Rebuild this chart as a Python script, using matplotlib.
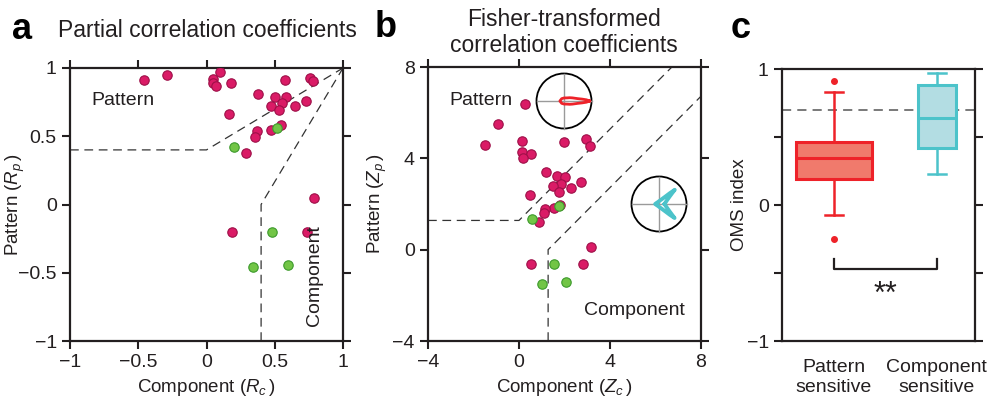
import matplotlib
matplotlib.use("Agg")
import matplotlib.pyplot as plt
import numpy as np
from matplotlib.patches import Circle

plt.rcParams["font.family"] = ["Liberation Sans", "DejaVu Sans"]
plt.rcParams["mathtext.fontset"] = "custom"
plt.rcParams["mathtext.rm"] = "Liberation Sans"
plt.rcParams["mathtext.it"] = "Liberation Sans:italic"

# ---- partial correlations (panel a) ----
rc_pink = [-0.455, -0.29, 0.10, 0.05, 0.05, 0.07, 0.18, 0.575, 0.755, 0.78,
           0.38, 0.50, 0.58, 0.55, 0.475, 0.53, 0.645, 0.73, 0.165, 0.545,
           0.475, 0.37, 0.355, 0.29, 0.785, 0.185, 0.735]
rp_pink = [0.91, 0.95, 0.97, 0.92, 0.89, 0.87, 0.89, 0.915, 0.925, 0.905,
           0.81, 0.79, 0.79, 0.745, 0.725, 0.69, 0.72, 0.76, 0.66, 0.58,
           0.545, 0.535, 0.495, 0.375, 0.045, -0.205, -0.205]
rc_green = [0.515, 0.20, 0.48, 0.34, 0.60]
rp_green = [0.56, 0.42, -0.20, -0.46, -0.44]

# ---- Fisher-transformed correlations (panel b) ----
zc_pink = [0.26, -0.92, -1.48, 0.13, 0.12, 0.51, 0.19, 1.96, 2.95, 3.11,
           1.17, 1.66, 2.01, 1.83, 1.51, 1.76, 2.29, 2.74, 0.48, 1.82,
           1.54, 1.14, 1.08, 0.86, 3.15, 0.51, 2.81]
zp_pink = [6.37, 5.52, 4.60, 4.77, 4.26, 4.20, 4.02, 4.73, 4.86, 4.53,
           3.39, 3.24, 3.18, 2.86, 2.79, 2.54, 2.72, 2.96, 2.38, 1.97,
           1.81, 1.77, 1.62, 1.20, 0.13, -0.63, -0.63]
zc_green = [1.74, 0.59, 1.52, 1.01, 2.07]
zp_green = [1.91, 1.34, -0.61, -1.50, -1.42]

# classification boundaries
r_crit = 0.4
z_crit = 1.28

# example direction tuning curves (degrees, normalised response)
pattern_dirs = [0, 3, 6, 10, 20, 30, 45, 60, 90, 135, 180, 225, 270, 300, 315,
                330, 340, 350, 354, 357]
pattern_resp = [0.93, 0.82, 0.66, 0.5, 0.33, 0.24, 0.16, 0.13, 0.11, 0.12, 0.15,
                0.12, 0.11, 0.13, 0.16, 0.24, 0.33, 0.5, 0.66, 0.82]
component_dirs = [0, 10, 20, 30, 35, 38, 40, 42, 45, 50, 60, 75, 90, 120, 150, 180,
                  210, 240, 270, 285, 300, 310, 315, 318, 320, 322, 325, 330, 340, 350]
component_resp = [0.2, 0.23, 0.28, 0.38, 0.47, 0.56, 0.64, 0.77, 0.55, 0.34, 0.2,
                  0.13, 0.1, 0.08, 0.09, 0.14, 0.09, 0.08, 0.1, 0.13, 0.2, 0.34,
                  0.55, 0.76, 0.64, 0.56, 0.47, 0.38, 0.28, 0.23]

# ---- OMS index summary (panel c) ----
box_groups = ["Pattern\nsensitive", "Component\nsensitive"]
box_med = [0.347, 0.639]
box_q1 = [0.19, 0.418]
box_q3 = [0.465, 0.88]
box_lo = [-0.077, 0.229]
box_hi = [0.831, 0.973]
box_fliers = [[0.914, -0.247], []]
oms_ref = 0.7

ticks_r = [-1, -0.5, 0, 0.5, 1]
ticklabels_r = ["\u22121", "\u22120.5", "0", "0.5", "1"]
ticks_z = [-4, 0, 4, 8]
ticklabels_z = ["\u22124", "0", "4", "8"]
ticks_c = [-1, -0.5, 0, 0.5, 1]
ticklabels_c = ["\u22121", "", "0", "", "1"]

PINK, PINK_EDGE = "#da1b66", "#9e1048"
GREEN, GREEN_EDGE = "#72c546", "#3d9a2c"
RED, RED_FACE = "#ee2229", "#f07a6c"
CYAN, CYAN_FACE = "#4cc3ca", "#b3dde3"
INK = "#231f20"

W, H = 992, 398
fig = plt.figure(figsize=(W / 100, H / 100), dpi=100)


def px_axes(x0, y0, x1, y1):
    return fig.add_axes([x0 / W, 1 - y1 / H, (x1 - x0) / W, (y1 - y0) / H])


def fig_text(x, y, s, **kw):
    fig.text(x / W, 1 - y / H, s, **kw)


def style(ax):
    for sp in ax.spines.values():
        sp.set_linewidth(1.6)
        sp.set_color(INK)
    ax.tick_params(direction="out", length=6, width=1.5, color=INK,
                   top=True, right=True, labelsize=14, pad=3.5,
                   labelcolor=INK)


dash = dict(color="#333333", lw=0.9, dashes=(7, 4.5))
MS = 46

# ---------------- panel a ----------------
ax_a = px_axes(70, 68, 343, 341)
style(ax_a)
ax_a.plot([-1, 0, 1], [r_crit, r_crit, 1], **dash)
ax_a.plot([r_crit, r_crit, 1], [-1, 0, 1], **dash)
ax_a.scatter(rc_pink, rp_pink, s=MS, c=PINK, edgecolors=PINK_EDGE, linewidths=0.8, zorder=3)
ax_a.scatter(rc_green, rp_green, s=MS, c=GREEN, edgecolors=GREEN_EDGE, linewidths=0.8, zorder=4)
ax_a.set_xlim(-1, 1)
ax_a.set_ylim(-1, 1)
ax_a.set_xticks(ticks_r, ticklabels_r)
ax_a.set_yticks(ticks_r, ticklabels_r)
ax_a.set_xlabel(r"Component ($R_c\,$)", fontsize=13.5, labelpad=4, color=INK)
ax_a.set_ylabel(r"Pattern ($R_p\,$)", fontsize=13.5, color=INK)
ax_a.yaxis.set_label_coords((27 - 70) / 273, 0.5)
ax_a.text(-0.84, 0.76, "Pattern", fontsize=14, va="center", ha="left", color=INK)
ax_a.text(0.79, -0.52, "Component", fontsize=14, va="center", ha="center",
          rotation=90, color=INK)

# ---------------- panel b ----------------
ax_b = px_axes(428, 67, 701, 341)
style(ax_b)
ax_b.plot([-4, 0, 8 - z_crit], [z_crit, z_crit, 8], **dash)
ax_b.plot([z_crit, z_crit, 8], [-4, 0, 8 - z_crit], **dash)
ax_b.scatter(zc_pink, zp_pink, s=MS, c=PINK, edgecolors=PINK_EDGE, linewidths=0.8, zorder=3)
ax_b.scatter(zc_green, zp_green, s=MS, c=GREEN, edgecolors=GREEN_EDGE, linewidths=0.8, zorder=4)
ax_b.set_xlim(-4, 8)
ax_b.set_ylim(-4, 8)
ax_b.set_xticks(ticks_z, ticklabels_z)
ax_b.set_yticks(ticks_z, ticklabels_z)
ax_b.set_xlabel(r"Component ($Z_c\,$)", fontsize=13.5, labelpad=4, color=INK)
ax_b.set_ylabel(r"Pattern ($Z_p\,$)", fontsize=13.5, color=INK)
ax_b.yaxis.set_label_coords((389 - 428) / 273, 0.5)
ax_b.text(-3.06, 6.54, "Pattern", fontsize=14, va="center", ha="left", color=INK)
ax_b.text(2.87, -2.66, "Component", fontsize=14, va="center", ha="left", color=INK)


def polar_icon(cx, cy, r, dirs, resp, color, lw):
    ax = px_axes(cx - r, cy - r, cx + r, cy + r)
    ax.set_xlim(-1, 1)
    ax.set_ylim(-1, 1)
    ax.axis("off")
    ax.plot([-1, 1], [0, 0], color="#9a9a9a", lw=1.0, clip_on=False)
    ax.plot([0, 0], [-1, 1], color="#9a9a9a", lw=1.0, clip_on=False)
    ax.add_patch(Circle((0, 0), 1, fill=False, ec="black", lw=1.3, clip_on=False))
    th = np.deg2rad(np.append(dirs, dirs[0]))
    rr = np.append(resp, resp[0])
    ax.plot(rr * np.cos(th), rr * np.sin(th), color=color, lw=lw,
            solid_joinstyle="round", clip_on=False)


polar_icon(564, 101, 27.5, pattern_dirs, pattern_resp, RED, 2.0)
polar_icon(659, 204, 27.5, component_dirs, component_resp, CYAN, 2.8)

# ---------------- panel c ----------------
ax_c = px_axes(782, 69, 975, 341)
style(ax_c)
ax_c.tick_params(axis="x", top=False, bottom=False, pad=7)
ax_c.axhline(oms_ref, color="#555555", lw=1.1, dashes=(6, 4), zorder=1)
stats = []
for i in range(len(box_groups)):
    stats.append(dict(med=box_med[i], q1=box_q1[i], q3=box_q3[i],
                      whislo=box_lo[i], whishi=box_hi[i], fliers=box_fliers[i]))
bp = ax_c.bxp(stats, positions=[1, 2], widths=[0.74, 0.37], capwidths=[0.17, 0.18],
              patch_artist=True, manage_ticks=False)
for i, (ec, fc) in enumerate([(RED, RED_FACE), (CYAN, CYAN_FACE)]):
    bp["boxes"][i].set(facecolor=fc, edgecolor=ec, linewidth=2.2, zorder=2)
    bp["medians"][i].set(color=ec, linewidth=2.2, zorder=3)
    for k in (2 * i, 2 * i + 1):
        bp["whiskers"][k].set(color=ec, linewidth=1.8)
        bp["caps"][k].set(color=ec, linewidth=1.8)
    bp["fliers"][i].set(marker="o", markerfacecolor=ec, markeredgecolor=ec,
                        markersize=4)
ax_c.set_xlim(0.495, 2.37)
ax_c.set_ylim(-1, 1)
ax_c.set_xticks([1, 2], box_groups)
for lab in ax_c.get_xticklabels():
    lab.set_linespacing(1.25)
ax_c.set_yticks(ticks_c, ticklabels_c)
ax_c.set_ylabel("OMS index", fontsize=13.5, color=INK)
ax_c.yaxis.set_label_coords((748 - 782) / 193, 0.5)
ax_c.plot([1, 1, 2, 2], [-0.40, -0.47, -0.47, -0.40], color=INK, lw=1.6)
ax_c.text(1.5, -0.72, "**", fontsize=22, ha="center", va="baseline", color=INK)

# ---------------- titles and panel letters ----------------
fig_text(207, 37, "Partial correlation coefficients", fontsize=16.5,
         ha="center", va="baseline", color=INK)
fig_text(564, 26, "Fisher-transformed", fontsize=16.5, ha="center", va="baseline", color=INK)
fig_text(564, 52, "correlation coefficients", fontsize=16.5, ha="center",
         va="baseline", color=INK)
for x, y, s in [(12, 39, "a"), (375, 37, "b"), (731, 38, "c")]:
    fig_text(x, y, s, fontsize=26, fontweight="bold", ha="left", va="baseline", color="black")

fig.savefig("out.png", dpi=100)
